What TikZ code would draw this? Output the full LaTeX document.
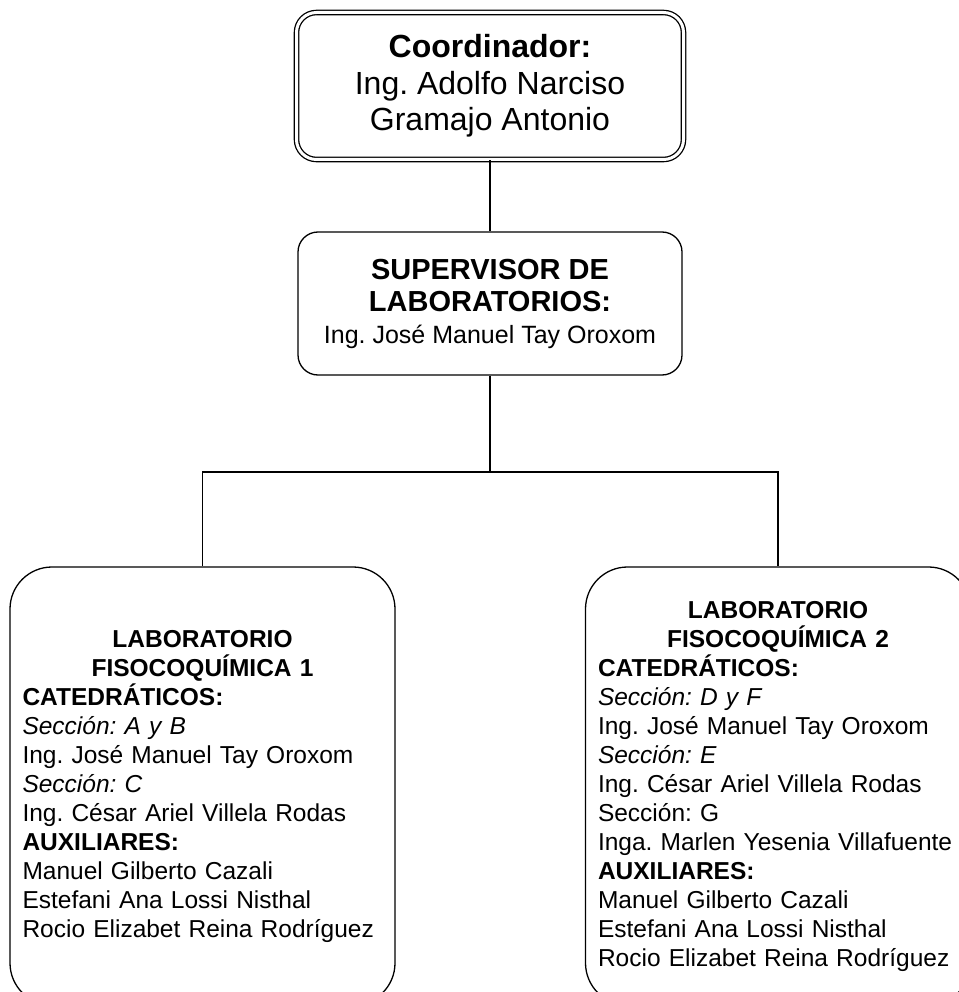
\documentclass[tikz,border=0pt]{standalone}
\usepackage{fontspec}
\setmainfont{Liberation Sans}
\usetikzlibrary{positioning}
\frenchspacing

\begin{document}
\begin{tikzpicture}
		[   x=1pt,y=-1pt,
		    obox/.style={draw=black,line width=1.3pt,rounded corners=#1,inner sep=0pt},
		    labbox/.style={obox=42pt,minimum width=385pt,minimum height=438pt,text width=360pt,inner xsep=12.5pt,font=\fontsize{24.5}{29}\selectfont},
		]
		\tikzset{org line/.style={draw,line width=1.3pt}}
		\useasboundingbox (0,0) rectangle (958,992);
		
		\node[obox=20pt,double,double distance=3pt,align=center,minimum width=387pt,minimum height=147pt,font=\fontsize{32}{36.5}\selectfont] (coord) at (490,86) {\textbf{Coordinador:}\\Ing. Adolfo Narciso\\Gramajo Antonio};
		
		\node[obox=20pt,align=center,minimum width=384pt,minimum height=143pt,font=\fontsize{29}{32}\selectfont] (sup) at (490,303.5) {\textbf{SUPERVISOR DE}\\\textbf{LABORATORIOS:}\\\fontsize{25}{28}\selectfont Ing. José Manuel Tay Oroxom};
		
		\node[labbox] (lab-1) at (202.5,786) {\centering\textbf{LABORATORIO}\\\textbf{FISOCOQUÍMICA 1}\par
			\raggedright\textbf{CATEDRÁTICOS:}\\
			\textit{Sección: A y B}\\
			Ing. José Manuel Tay Oroxom\\
			\textit{Sección: C}\\
			Ing. César Ariel Villela Rodas\\
			\textbf{AUXILIARES:}\\
			Manuel Gilberto Cazali\\
			Estefani Ana Lossi Nisthal\\
			Rocio Elizabet Reina Rodríguez\par};
		
		\node[labbox] (lab-2) at (778,786) {\centering\textbf{LABORATORIO}\\\textbf{FISOCOQUÍMICA 2}\par
			\raggedright\textbf{CATEDRÁTICOS:}\\
			\textit{Sección: D y F}\\
			Ing. José Manuel Tay Oroxom\\
			\textit{Sección: E}\\
			Ing. César Ariel Villela Rodas\\
			Sección: G\\
			Inga. Marlen Yesenia Villafuente\\
			\textbf{AUXILIARES:}\\
			Manuel Gilberto Cazali\\
			Estefani Ana Lossi Nisthal\\
			Rocio Elizabet Reina Rodríguez\par};
		
		\coordinate (split) at (490,472);
		
		\path[org line] (coord.south) -- (sup.north);
		\path[org line] (sup.south) -- (split);
		\path[org line] (lab-1.north) |- (split) -| (lab-2.north);
		
\end{tikzpicture}
\end{document}
